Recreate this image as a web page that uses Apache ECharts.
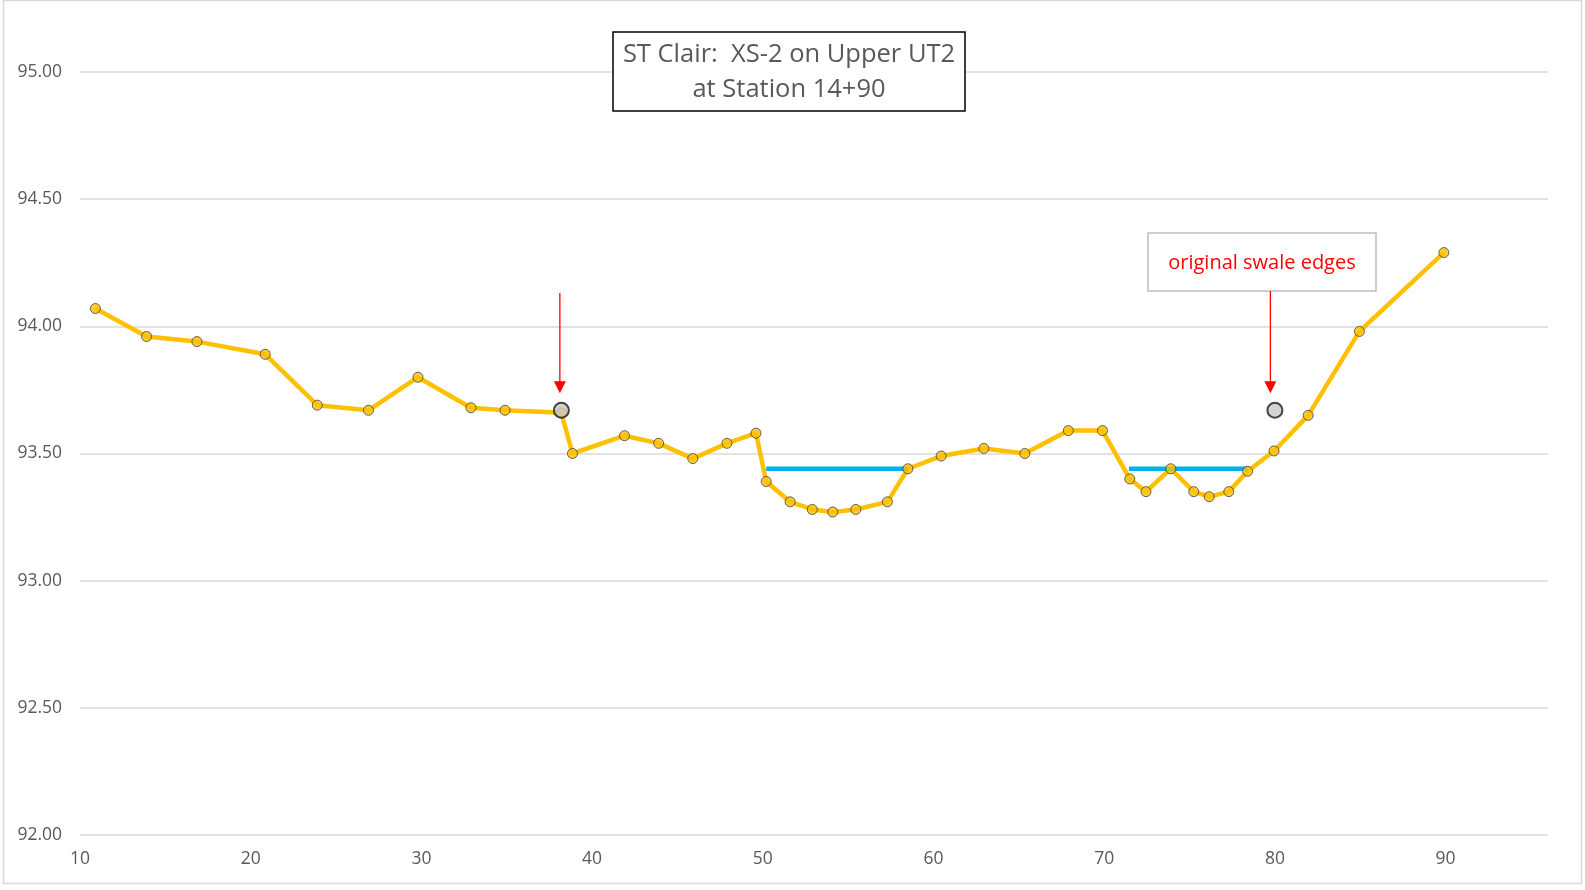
<!DOCTYPE html>
<html>
<head>
<meta charset="utf-8">
<script src="https://cdn.jsdelivr.net/npm/echarts@6/dist/echarts.min.js"></script>
<style>
  html, body { margin: 0; padding: 0; background: #ffffff; }
  #chart { width: 1585px; height: 890px; }
</style>
</head>
<body>
<div id="chart"></div>
<script>
// Surveyed cross-section: station (ft) vs ground elevation (ft)
const stations = [10.9, 13.9, 16.85, 20.85, 23.9, 26.9, 29.8, 32.9, 34.9, 38.2, 38.85, 41.9, 43.9, 45.9, 47.9, 49.6,
  50.2, 51.6, 52.9, 54.1, 55.45, 57.3, 58.5, 60.45, 62.95, 65.35, 67.9, 69.9, 71.5, 72.45, 73.9, 75.25, 76.15, 77.3,
  78.4, 79.95, 81.95, 84.95, 89.9];
const elevations = [94.07, 93.96, 93.94, 93.89, 93.69, 93.67, 93.80, 93.68, 93.67, 93.66, 93.50, 93.57, 93.54, 93.48, 93.54, 93.58,
  93.39, 93.31, 93.28, 93.27, 93.28, 93.31, 93.44, 93.49, 93.52, 93.50, 93.59, 93.59, 93.40, 93.35, 93.44, 93.35, 93.33, 93.35,
  93.43, 93.51, 93.65, 93.98, 94.29];

// Original swale edge shots
const edgeStations = [38.2, 80.0];
const edgeElevations = [93.67, 93.67];

// Water surface lines in the two low areas
const water1Stations = [50.2, 58.5];
const water2Stations = [71.45, 78.4];
const waterElevation = 93.44;

// Axis ranges and ticks
const xMin = 10, xMax = 96, xStep = 10;
const yMin = 92, yMax = 95, yStep = 0.5;

const titleLines = ['ST Clair:  XS-2 on Upper UT2', 'at Station 14+90'];
const noteText = 'original swale edges';

const FONT = '"Open Sans", sans-serif';
const profile = stations.map((s, i) => [s, elevations[i]]);
const edges = edgeStations.map((s, i) => [s, edgeElevations[i]]);

const chart = echarts.init(document.getElementById('chart'), null, { renderer: 'canvas' });

chart.setOption({
  backgroundColor: '#ffffff',
  animation: false,
  grid: { left: 80, right: 37, top: 72, bottom: 55, outerBoundsMode: 'none', containLabel: false },
  xAxis: {
    type: 'value', min: xMin, max: xMax, interval: xStep,
    axisLine: { show: false }, axisTick: { show: false }, splitLine: { show: false },
    axisLabel: {
      color: '#595959', fontFamily: FONT, fontSize: 17.5, margin: 15,
      showMaxLabel: false,
      formatter: v => (v % xStep === 0 ? String(v) : '')
    }
  },
  yAxis: {
    type: 'value', min: yMin, max: yMax, interval: yStep,
    axisLine: { show: false }, axisTick: { show: false },
    splitLine: { lineStyle: { color: '#D9D9D9', width: 1.5 } },
    axisLabel: {
      color: '#595959', fontFamily: FONT, fontSize: 17.5, margin: 18,
      formatter: v => v.toFixed(2)
    }
  },
  series: [
    {
      name: 'ground', type: 'line', data: profile, z: 2,
      showSymbol: false, symbol: 'none',
      lineStyle: { color: '#FFC000', width: 4.5 }
    },
    {
      name: 'water1', type: 'line', z: 3, symbol: 'none',
      data: water1Stations.map(s => [s, waterElevation]),
      lineStyle: { color: '#00B0F0', width: 4.5 }
    },
    {
      name: 'water2', type: 'line', z: 3, symbol: 'none',
      data: water2Stations.map(s => [s, waterElevation]),
      lineStyle: { color: '#00B0F0', width: 4.5 }
    },
    {
      name: 'shots', type: 'scatter', data: profile, z: 4,
      symbol: 'circle', symbolSize: 10,
      itemStyle: { color: '#FFC000', borderColor: '#404040', borderWidth: 1 }
    },
    {
      name: 'edges', type: 'scatter', data: edges, z: 5,
      symbol: 'circle', symbolSize: 15,
      itemStyle: { color: '#C8C8C8', borderColor: '#1a1a1a', borderWidth: 2 }
    }
  ]
});

// Callouts: title box, note box and arrows pointing at the swale edges
function arrow(x, yTop, yTip) {
  return [
    { type: 'line', z: 100, shape: { x1: x, y1: yTop, x2: x, y2: yTip - 11 },
      style: { stroke: '#FF0000', lineWidth: 1.3 } },
    { type: 'polygon', z: 100, shape: { points: [[x - 6, yTip - 12], [x + 6, yTip - 12], [x, yTip]] },
      style: { fill: '#FF0000' } }
  ];
}

const e1 = chart.convertToPixel({ gridIndex: 0 }, edges[0]);
const e2 = chart.convertToPixel({ gridIndex: 0 }, edges[1]);

const noteBox = { x: 1148, y: 233, w: 228, h: 58 };

chart.setOption({
  graphic: [
    { type: 'rect', z: 100, shape: { x: 3.5, y: 0.5, width: 1578, height: 883 },
      style: { fill: 'none', stroke: '#D9D9D9', lineWidth: 1.5 } },
    { type: 'rect', z: 100, shape: { x: 613, y: 32, width: 352, height: 79 },
      style: { fill: '#ffffff', stroke: '#000000', lineWidth: 1.5 } },
    { type: 'text', z: 101, x: 789, y: 72,
      style: { text: titleLines.join('\n'), fill: '#595959', font: '25.5px ' + FONT,
        align: 'center', verticalAlign: 'middle', lineHeight: 35 } },
    { type: 'rect', z: 100, shape: { x: noteBox.x, y: noteBox.y, width: noteBox.w, height: noteBox.h },
      style: { fill: '#ffffff', stroke: '#BFBFBF', lineWidth: 1.5 } },
    { type: 'text', z: 101, x: noteBox.x + noteBox.w / 2, y: noteBox.y + 30,
      style: { text: noteText, fill: '#FF0000', font: '20px ' + FONT,
        align: 'center', verticalAlign: 'middle' } },
    ...arrow(e1[0] - 1.5, 293, e1[1] - 17),
    ...arrow(e2[0] - 4.5, noteBox.y + noteBox.h, e2[1] - 17)
  ]
});
</script>
</body>
</html>
